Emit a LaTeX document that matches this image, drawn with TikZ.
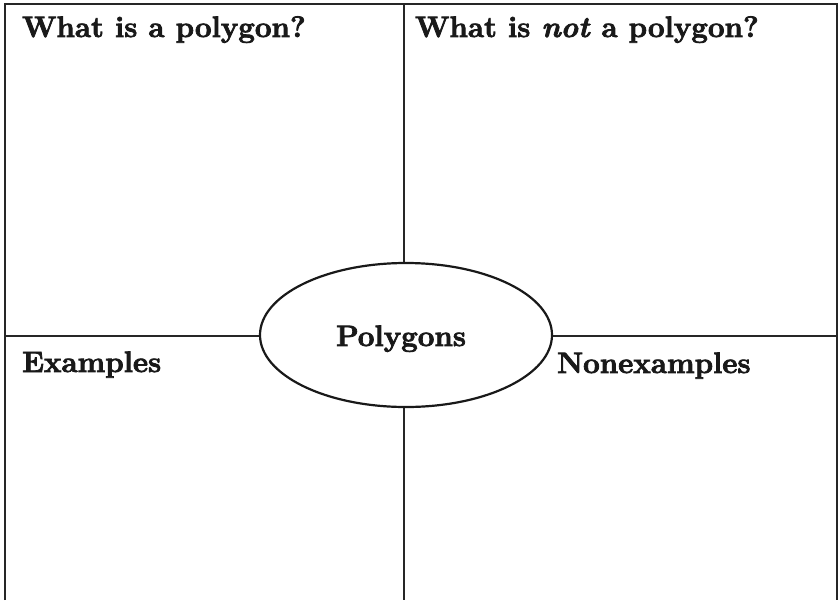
\documentclass[tikz,border=0pt]{standalone}
\usepackage{fontspec}
\setmainfont{Latin Modern Roman}[BoldFeatures={FakeBold=2.6},BoldItalicFeatures={FakeBold=2.6}]
\usetikzlibrary{shapes.geometric}
\begin{document}
\begin{tikzpicture}[x=1pt,y=-1pt,
  frame/.style={draw=black!85, line width=1.4pt},
  oval/.style={ellipse, draw=black!90, line width=2.2pt, fill=white, minimum width=292pt, minimum height=144pt, inner sep=0pt},
  label/.style={anchor=base west, inner sep=0pt, font=\fontsize{29.5}{34}\selectfont\bfseries, text=black!90},
  center label/.style={anchor=base, inner sep=0pt, font=\fontsize{29.5}{34}\selectfont\bfseries, text=black!90}]
\useasboundingbox (0,0) rectangle (838,600);
\coordinate (tl) at (5,4);
\coordinate (tr) at (837,4);
\coordinate (bl) at (5,600);
\coordinate (br) at (837,600);
\coordinate (tm) at (404,4);
\coordinate (bm) at (404,600);
\coordinate (ml) at (5,336);
\coordinate (mr) at (837,336);
\draw[frame] (bl) -- (tl) -- (tr) -- (br);
\draw[frame] (tm) -- (bm);
\draw[frame] (ml) -- (mr);
\node[oval] (hub) at (406,335) {};
\node[center label] (title) at (401,346) {Polygons};
\node[label] (q1) at (22,37) {What is a polygon?};
\node[label] (q2) at (415,37) {What is \textit{not} a polygon?};
\node[label] (q3) at (22,372) {Examples};
\node[label] (q4) at (557,373) {Nonexamples};
\end{tikzpicture}
\end{document}
